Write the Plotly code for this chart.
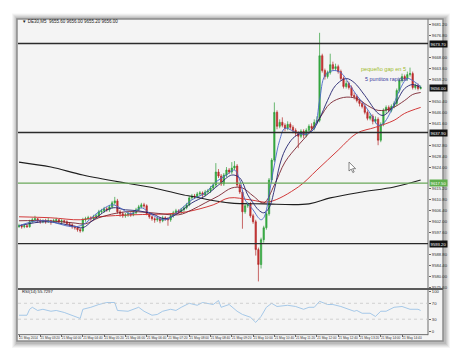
import plotly.graph_objects as go

# ---------------- data ----------------
opens = [9600.0, 9600.4, 9600.0, 9600.4, 9600.0, 9602.0, 9602.8, 9603.2, 9602.4, 9602.0,
 9602.4, 9602.0, 9602.4, 9602.0, 9602.4, 9602.8, 9602.0, 9602.4, 9602.0, 9601.2,
 9600.8, 9600.0, 9599.6, 9598.8, 9598.4, 9602.8, 9603.2, 9603.6, 9603.2, 9604.0,
 9604.4, 9606.0, 9606.4, 9607.2, 9606.8, 9608.0, 9609.6, 9610.4, 9606.0, 9605.2,
 9604.4, 9604.8, 9605.2, 9604.8, 9605.6, 9606.8, 9608.0, 9608.8, 9608.4, 9605.2,
 9604.0, 9603.2, 9602.8, 9603.2, 9602.4, 9603.6, 9603.2, 9602.8, 9604.4, 9605.6,
 9606.4, 9606.0, 9606.8, 9607.6, 9608.8, 9611.6, 9612.4, 9612.0, 9613.2, 9613.6,
 9612.8, 9614.0, 9614.4, 9615.6, 9616.8, 9622.0, 9620.4, 9617.2, 9620.8, 9622.8,
 9622.0, 9623.6, 9624.4, 9616.8, 9614.0, 9606.0, 9608.4, 9609.2, 9604.4, 9602.0,
 9590.8, 9584.8, 9594.8, 9599.6, 9605.2, 9618.8, 9626.8, 9646.0, 9640.4, 9642.0,
 9640.8, 9639.6, 9641.2, 9640.0, 9638.8, 9637.6, 9636.4, 9638.4, 9636.8, 9638.8,
 9640.4, 9639.6, 9642.0, 9642.8, 9668.8, 9662.8, 9660.4, 9662.0, 9665.2, 9663.6,
 9664.4, 9662.4, 9659.6, 9656.4, 9657.6, 9656.0, 9652.8, 9652.4, 9650.8, 9649.6,
 9648.4, 9646.0, 9643.6, 9644.4, 9642.4, 9643.2, 9634.8, 9641.2, 9646.8, 9648.0,
 9646.8, 9648.4, 9649.6, 9654.8, 9658.8, 9660.4, 9659.6, 9661.2, 9661.6, 9656.0,
 9656.8, 9655.6]
highs = [9601.2, 9601.0, 9600.8, 9601.2, 9602.8, 9603.6, 9604.4, 9603.6, 9603.2, 9603.0,
 9603.2, 9603.6, 9602.8, 9603.2, 9603.6, 9603.2, 9603.0, 9602.8, 9602.6, 9601.8,
 9601.4, 9600.6, 9600.2, 9599.6, 9603.6, 9604.0, 9604.4, 9604.2, 9604.8, 9605.2,
 9606.8, 9607.2, 9608.0, 9608.0, 9608.8, 9610.4, 9612.0, 9611.2, 9606.8, 9606.0,
 9605.6, 9606.0, 9605.8, 9606.4, 9607.6, 9608.8, 9609.6, 9609.6, 9609.0, 9605.8,
 9604.6, 9603.8, 9604.0, 9603.8, 9604.4, 9604.2, 9603.8, 9605.2, 9606.4, 9607.2,
 9607.0, 9607.6, 9608.4, 9609.6, 9612.4, 9613.2, 9613.2, 9614.0, 9614.4, 9614.2,
 9614.8, 9615.2, 9616.4, 9617.6, 9625.6, 9623.2, 9621.2, 9621.6, 9624.0, 9623.6,
 9626.0, 9626.4, 9625.2, 9617.6, 9614.8, 9609.6, 9610.0, 9610.0, 9605.2, 9602.8,
 9591.6, 9595.6, 9600.4, 9606.0, 9619.6, 9627.6, 9650.0, 9646.8, 9643.2, 9644.0,
 9641.6, 9642.4, 9642.0, 9640.8, 9639.6, 9638.4, 9639.2, 9639.2, 9639.6, 9641.2,
 9641.6, 9643.2, 9644.4, 9678.0, 9669.6, 9663.6, 9662.8, 9669.6, 9666.4, 9665.6,
 9665.2, 9663.2, 9660.4, 9658.8, 9658.4, 9656.8, 9654.0, 9653.2, 9651.6, 9650.4,
 9649.2, 9646.8, 9645.6, 9645.2, 9644.4, 9644.0, 9642.0, 9647.6, 9648.8, 9648.8,
 9649.2, 9650.4, 9655.6, 9659.6, 9661.6, 9661.2, 9662.4, 9664.0, 9662.4, 9657.6,
 9657.6, 9656.8]
lows = [9599.6, 9599.2, 9599.4, 9599.6, 9599.6, 9601.6, 9602.4, 9601.6, 9601.2, 9601.4,
 9601.2, 9601.6, 9600.8, 9601.6, 9601.8, 9601.2, 9600.8, 9601.4, 9600.4, 9600.0,
 9599.2, 9598.8, 9598.0, 9597.6, 9597.8, 9602.0, 9602.6, 9602.4, 9602.8, 9603.2,
 9603.6, 9605.2, 9605.6, 9606.0, 9606.0, 9607.2, 9608.8, 9605.2, 9604.0, 9603.6,
 9603.6, 9604.0, 9604.0, 9604.2, 9605.0, 9606.2, 9607.4, 9607.6, 9604.6, 9603.2,
 9602.4, 9601.6, 9602.0, 9601.4, 9601.8, 9602.4, 9600.4, 9602.0, 9603.6, 9604.8,
 9605.2, 9605.2, 9606.0, 9607.0, 9608.2, 9610.8, 9611.2, 9611.4, 9612.4, 9612.0,
 9612.2, 9613.2, 9613.6, 9614.8, 9616.0, 9619.6, 9616.4, 9616.4, 9620.0, 9621.2,
 9621.2, 9622.8, 9616.0, 9613.2, 9599.2, 9605.2, 9607.6, 9603.6, 9601.2, 9588.4,
 9578.0, 9583.2, 9593.6, 9598.8, 9604.4, 9617.6, 9626.0, 9639.2, 9639.6, 9640.0,
 9638.4, 9638.8, 9639.2, 9637.6, 9636.4, 9631.6, 9635.6, 9635.6, 9636.0, 9638.0,
 9638.8, 9638.8, 9641.2, 9642.0, 9662.0, 9659.2, 9659.6, 9661.2, 9662.8, 9662.8,
 9661.6, 9658.8, 9655.6, 9655.6, 9655.2, 9652.0, 9651.2, 9650.0, 9648.4, 9647.6,
 9645.2, 9642.8, 9642.8, 9641.2, 9641.6, 9632.8, 9634.0, 9640.4, 9645.6, 9646.0,
 9646.0, 9647.6, 9648.8, 9654.0, 9658.0, 9658.8, 9658.8, 9660.4, 9655.2, 9655.2,
 9654.8, 9655.2]
closes = [9600.4, 9600.0, 9600.4, 9600.0, 9602.0, 9602.8, 9603.2, 9602.4, 9602.0, 9602.4,
 9602.0, 9602.4, 9602.0, 9602.4, 9602.8, 9602.0, 9602.4, 9602.0, 9601.2, 9600.8,
 9600.0, 9599.6, 9598.8, 9598.4, 9602.8, 9603.2, 9603.6, 9603.2, 9604.0, 9604.4,
 9606.0, 9606.4, 9607.2, 9606.8, 9608.0, 9609.6, 9610.4, 9606.0, 9605.2, 9604.4,
 9604.8, 9605.2, 9604.8, 9605.6, 9606.8, 9608.0, 9608.8, 9608.4, 9605.2, 9604.0,
 9603.2, 9602.8, 9603.2, 9602.4, 9603.6, 9603.2, 9602.8, 9604.4, 9605.6, 9606.4,
 9606.0, 9606.8, 9607.6, 9608.8, 9611.6, 9612.4, 9612.0, 9613.2, 9613.6, 9612.8,
 9614.0, 9614.4, 9615.6, 9616.8, 9622.0, 9620.4, 9617.2, 9620.8, 9622.8, 9622.0,
 9623.6, 9624.4, 9616.8, 9614.0, 9606.0, 9608.4, 9609.2, 9604.4, 9602.0, 9590.8,
 9584.8, 9594.8, 9599.6, 9605.2, 9618.8, 9626.8, 9646.0, 9640.4, 9642.0, 9640.8,
 9639.6, 9641.2, 9640.0, 9638.8, 9637.6, 9636.4, 9638.4, 9636.8, 9638.8, 9640.4,
 9639.6, 9642.0, 9642.8, 9668.8, 9662.8, 9660.4, 9662.0, 9665.2, 9663.6, 9664.4,
 9662.4, 9659.6, 9656.4, 9657.6, 9656.0, 9652.8, 9652.4, 9650.8, 9649.6, 9648.4,
 9646.0, 9643.6, 9644.4, 9642.4, 9643.2, 9634.8, 9641.2, 9646.8, 9648.0, 9646.8,
 9648.4, 9649.6, 9654.8, 9658.8, 9660.4, 9659.6, 9661.2, 9661.6, 9656.0, 9656.8,
 9655.6, 9656.0]
bars = list(range(len(closes)))

# moving averages read at sample bars
ma_slow_black_bars = [0, 12, 24, 40, 49, 62, 79, 92, 109, 117, 129, 141, 151]
ma_slow_black = [9626.0, 9624.0, 9620.8, 9617.6, 9616.0, 9612.8, 9609.6, 9609.2, 9609.2,
                 9611.6, 9614.0, 9616.0, 9618.8]
ma_red_bars = [0, 12, 23, 30, 43, 56, 63, 73, 79, 87, 94, 105, 112, 120, 127, 134, 141, 145, 151]
ma_red = [9604.0, 9603.6, 9602.8, 9604.0, 9604.8, 9605.2, 9606.0, 9608.8, 9611.6, 9610.8,
          9610.0, 9616.0, 9622.8, 9630.8, 9637.6, 9640.0, 9642.8, 9645.6, 9648.0]
ma_maroon_bars = [0, 10, 20, 25, 30, 40, 50, 60, 65, 70, 75, 80, 84, 88, 92, 96, 100, 105,
                  109, 113, 117, 122, 127, 131, 135, 140, 145, 148, 151]
ma_maroon = [9602.4, 9602.4, 9601.6, 9601.2, 9603.6, 9606.0, 9605.6, 9604.8, 9606.8, 9609.6,
             9612.4, 9615.6, 9615.6, 9612.4, 9609.6, 9616.8, 9626.0, 9632.8, 9637.6, 9643.6,
             9649.6, 9652.0, 9651.6, 9648.8, 9646.8, 9647.6, 9650.8, 9653.2, 9654.0]
ma_navy_bars = [0, 10, 20, 24, 28, 35, 40, 45, 50, 55, 60, 65, 70, 75, 80, 83, 86, 88, 90, 92,
                94, 96, 98, 100, 103, 106, 110, 113, 116, 119, 123, 126, 130, 135, 137, 141,
                145, 148, 151]
ma_navy = [9600.4, 9602.0, 9600.4, 9599.6, 9602.8, 9607.6, 9606.8, 9606.4, 9605.2, 9603.2,
           9605.6, 9609.6, 9612.4, 9616.8, 9620.8, 9619.6, 9612.8, 9609.6, 9606.8, 9605.6,
           9607.6, 9614.8, 9624.8, 9630.8, 9635.6, 9637.6, 9638.4, 9643.6, 9650.8, 9656.8,
           9659.6, 9658.0, 9652.8, 9645.6, 9644.8, 9648.8, 9655.6, 9657.2, 9656.0]
ma_blue_bars = [0, 5, 10, 20, 24, 30, 35, 38, 42, 46, 50, 55, 60, 65, 70, 74, 78, 81, 83, 85,
                88, 90, 91, 92, 93, 94, 96, 98, 100, 104, 108, 111, 113, 115, 118, 121, 124,
                127, 130, 133, 135, 137, 140, 143, 146, 148, 151]
ma_blue = [9600.4, 9602.0, 9602.4, 9600.0, 9600.8, 9606.0, 9608.8, 9607.6, 9605.2, 9607.6,
           9604.8, 9602.8, 9606.4, 9610.8, 9613.6, 9618.0, 9620.8, 9622.8, 9618.8, 9610.8,
           9606.8, 9603.6, 9602.8, 9603.6, 9606.8, 9612.8, 9624.8, 9634.8, 9639.6, 9638.0,
           9637.2, 9639.6, 9650.8, 9660.8, 9662.8, 9662.0, 9657.6, 9652.8, 9648.8, 9644.0,
           9640.8, 9641.6, 9646.8, 9654.8, 9659.6, 9658.8, 9656.4]

rsi_bars = [0, 3, 4, 5, 7, 9, 12, 14, 17, 22, 23, 24, 27, 30, 33, 36, 37, 41, 45, 47, 50, 52,
            54, 57, 59, 61, 64, 67, 69, 73, 75, 76, 79, 82, 84, 87, 89, 91, 93, 95, 97, 101,
            104, 107, 109, 111, 113, 116, 118, 121, 123, 126, 127, 129, 132, 134, 136, 138,
            141, 144, 147, 150, 151]
rsi = [40, 40, 55, 60, 52, 55, 50, 52, 47, 35, 32, 55, 60, 67, 72, 72, 52, 50, 60, 50, 40, 42,
       50, 55, 52, 60, 70, 65, 72, 67, 77, 60, 67, 50, 42, 35, 22, 37, 60, 70, 62, 65, 62, 55,
       60, 60, 75, 67, 67, 62, 57, 50, 52, 45, 45, 37, 50, 50, 60, 62, 55, 55, 52]

level_black = [9673.7, 9637.9, 9593.2]
level_green = 9617.5

# right-scale labels (those hidden behind the level boxes are left out)
price_ticks = [9575.6, 9580.0, 9584.4, 9588.8, 9597.6, 9602.0, 9606.4, 9610.8, 9615.2,
               9624.0, 9628.4, 9632.8, 9641.6, 9646.0, 9650.4, 9659.2,
               9663.6, 9668.0, 9676.8, 9681.2]
time_tick_bars = [0, 8, 16, 24, 32, 40, 48, 56, 64, 72, 80, 88, 96, 104, 112, 120, 128, 136, 144]
time_labels = ["21 May 2014", "21 May 03:20", "21 May 04:00", "21 May 04:40", "21 May 05:20",
               "21 May 06:00", "21 May 06:40", "21 May 07:20", "21 May 08:00", "21 May 08:40",
               "21 May 09:20", "21 May 10:00", "21 May 10:40", "21 May 11:20", "21 May 12:00",
               "21 May 12:40", "21 May 13:20", "21 May 14:00", "21 May 14:40"]
rsi_ticks = [0, 30, 70, 100]

title_text = "DE30,M5  9655.60 9656.00 9655.20 9656.00"
rsi_text = "RSI(14) 55.7297"
note1 = "pequeño gap en 5"
note2 = "5 puntitos rapidos"

# ---------------- layout helpers ----------------
W, H = 460, 359
def px(x):
    return x / W
def py(y):
    return 1 - y / H

FONT = "Liberation Sans, Arial, sans-serif"
fig = go.Figure()

fig.add_trace(go.Scatter(x=ma_slow_black_bars, y=ma_slow_black, mode="lines",
                         line=dict(color="#1e1e1e", width=1.1, shape="spline"), xaxis="x", yaxis="y"))
fig.add_trace(go.Scatter(x=ma_red_bars, y=ma_red, mode="lines",
                         line=dict(color="#d23a3a", width=1.0, shape="spline"), xaxis="x", yaxis="y"))
fig.add_trace(go.Scatter(x=ma_maroon_bars, y=ma_maroon, mode="lines",
                         line=dict(color="#7a2430", width=0.9, shape="spline"), xaxis="x", yaxis="y"))
fig.add_trace(go.Scatter(x=ma_navy_bars, y=ma_navy, mode="lines",
                         line=dict(color="#23236e", width=0.9, shape="spline"), xaxis="x", yaxis="y"))
fig.add_trace(go.Scatter(x=ma_blue_bars, y=ma_blue, mode="lines",
                         line=dict(color="#4a68c8", width=0.9, shape="spline"), xaxis="x", yaxis="y"))

fig.add_trace(go.Candlestick(x=bars, open=opens, high=highs, low=lows, close=closes,
                             increasing=dict(line=dict(color="#2e9e3a", width=0.7), fillcolor="#36b043"),
                             decreasing=dict(line=dict(color="#b52a2a", width=0.7), fillcolor="#c83030"),
                             whiskerwidth=0, xaxis="x", yaxis="y"))

fig.add_trace(go.Scatter(x=rsi_bars, y=rsi, mode="lines",
                         line=dict(color="#9cc3e6", width=0.9), xaxis="x2", yaxis="y2"))

xr = [(18 - 19) / 2.66, (428 - 19) / 2.66]

shapes = []
# drop shadow
for k, op in enumerate([0.04, 0.05, 0.06, 0.07, 0.08]):
    d = 6 - k
    shapes.append(dict(type="rect", xref="paper", yref="paper", layer="below",
                       x0=px(17 - d + 1), x1=px(443 + d + 1), y0=py(342 + d + 1), y1=py(18 - d + 0.5),
                       fillcolor=f"rgba(0,0,0,{op})", line=dict(width=0)))
shapes.append(dict(type="rect", xref="paper", yref="paper", layer="below",
                   x0=px(17), x1=px(443), y0=py(342), y1=py(18),
                   fillcolor="#f4f4f4", line=dict(color="#8c8c8c", width=1.5)))
# price axis separator
shapes.append(dict(type="line", xref="paper", yref="paper", x0=px(428), x1=px(428), y0=py(336), y1=py(18),
                   line=dict(color="#6e6e6e", width=1)))
# subwindow separator
shapes.append(dict(type="line", xref="paper", yref="paper", x0=px(18), x1=px(443), y0=py(289.5), y1=py(289.5),
                   line=dict(color="#5a5a5a", width=2)))
shapes.append(dict(type="line", xref="paper", yref="paper", x0=px(18), x1=px(428), y0=py(335.5), y1=py(335.5),
                   line=dict(color="#6e6e6e", width=1)))
# horizontal levels
for lv in level_black:
    shapes.append(dict(type="line", xref="paper", yref="y", x0=px(18), x1=px(428), y0=lv, y1=lv,
                       line=dict(color="#2b2b2b", width=1.3)))
shapes.append(dict(type="line", xref="paper", yref="y", x0=px(18), x1=px(428), y0=level_green, y1=level_green,
                   line=dict(color="#6aa85a", width=1.3)))
# RSI levels
for lv in [30, 70]:
    shapes.append(dict(type="line", xref="paper", yref="y2", x0=px(18), x1=px(428), y0=lv, y1=lv,
                       line=dict(color="#c8c8c8", width=0.8, dash="dot")))
# mouse pointer left on the chart
cursor_pts = [(349, 162), (349, 171), (351.2, 169), (352.8, 172.5), (354.2, 171.9),
              (352.6, 168.6), (355.6, 168.6)]
cursor_path = "M " + " L ".join(f"{px(a):.5f},{py(b):.5f}" for a, b in cursor_pts) + " Z"
shapes.append(dict(type="path", xref="paper", yref="paper", path=cursor_path,
                   fillcolor="#ffffff", line=dict(color="#555555", width=0.7)))

ann = []
ann.append(dict(x=px(20), y=py(21), xref="paper", yref="paper", xanchor="left", yanchor="middle",
                text="▼ " + title_text, showarrow=False, font=dict(size=4.5, color="#222", family=FONT)))
ann.append(dict(x=px(20), y=py(292.5), xref="paper", yref="paper", xanchor="left", yanchor="middle",
                text=rsi_text, showarrow=False, font=dict(size=4.2, color="#222", family=FONT)))
for lv in level_black + [closes[-1]]:
    ann.append(dict(x=px(428.5), y=lv, xref="paper", yref="y", xanchor="left", yanchor="middle",
                    text=f"{lv:.2f}", showarrow=False, bgcolor="#111111", borderpad=0.6,
                    font=dict(size=4.2, color="#ffffff", family=FONT)))
ann.append(dict(x=px(428.5), y=level_green, xref="paper", yref="y", xanchor="left", yanchor="middle",
                text=f"{level_green:.2f}", showarrow=False, bgcolor="#5fae4c", borderpad=0.6,
                font=dict(size=4.2, color="#ffffff", family=FONT)))
ann.append(dict(x=137, y=9663.6, xref="x", yref="y", xanchor="center", yanchor="middle",
                text=note1, showarrow=False, font=dict(size=5.6, color="#9dbb2c", family=FONT)))
ann.append(dict(x=138, y=9659.6, xref="x", yref="y", xanchor="center", yanchor="middle",
                text=note2, showarrow=False, font=dict(size=5.4, color="#3a3aa0", family=FONT)))

fig.update_layout(
    width=W, height=H, margin=dict(l=0, r=0, t=0, b=0),
    paper_bgcolor="#ffffff", plot_bgcolor="rgba(0,0,0,0)",
    showlegend=False, shapes=shapes, annotations=ann,
    xaxis=dict(domain=[px(18), px(428)], range=xr, anchor="y", showticklabels=False,
               showgrid=False, zeroline=False, showline=False, rangeslider=dict(visible=False)),
    yaxis=dict(domain=[py(289), py(19)], range=[9575.2, 9683.2], side="right", anchor="x",
               tickvals=price_ticks, ticktext=[f"{v:.2f}" for v in price_ticks],
               ticks="outside", ticklen=2, tickcolor="#666", tickwidth=0.6,
               tickfont=dict(size=4.2, color="#333", family=FONT),
               showgrid=False, zeroline=False, showline=False),
    xaxis2=dict(domain=[px(18), px(428)], range=xr, anchor="y2", matches="x",
                tickvals=time_tick_bars, ticktext=time_labels, ticks="outside", ticklen=2,
                tickcolor="#666", tickwidth=0.6, ticklabelposition="outside right", tickangle=0,
                tickfont=dict(size=3.2, color="#333", family=FONT),
                showgrid=False, zeroline=False, showline=False),
    yaxis2=dict(domain=[py(335), py(290)], range=[-7.5, 105], side="right", anchor="x2",
                tickvals=rsi_ticks, ticks="outside", ticklen=2, tickcolor="#666", tickwidth=0.6,
                tickfont=dict(size=4.2, color="#333", family=FONT),
                showgrid=False, zeroline=False, showline=False),
)

fig.write_html("out.html")
